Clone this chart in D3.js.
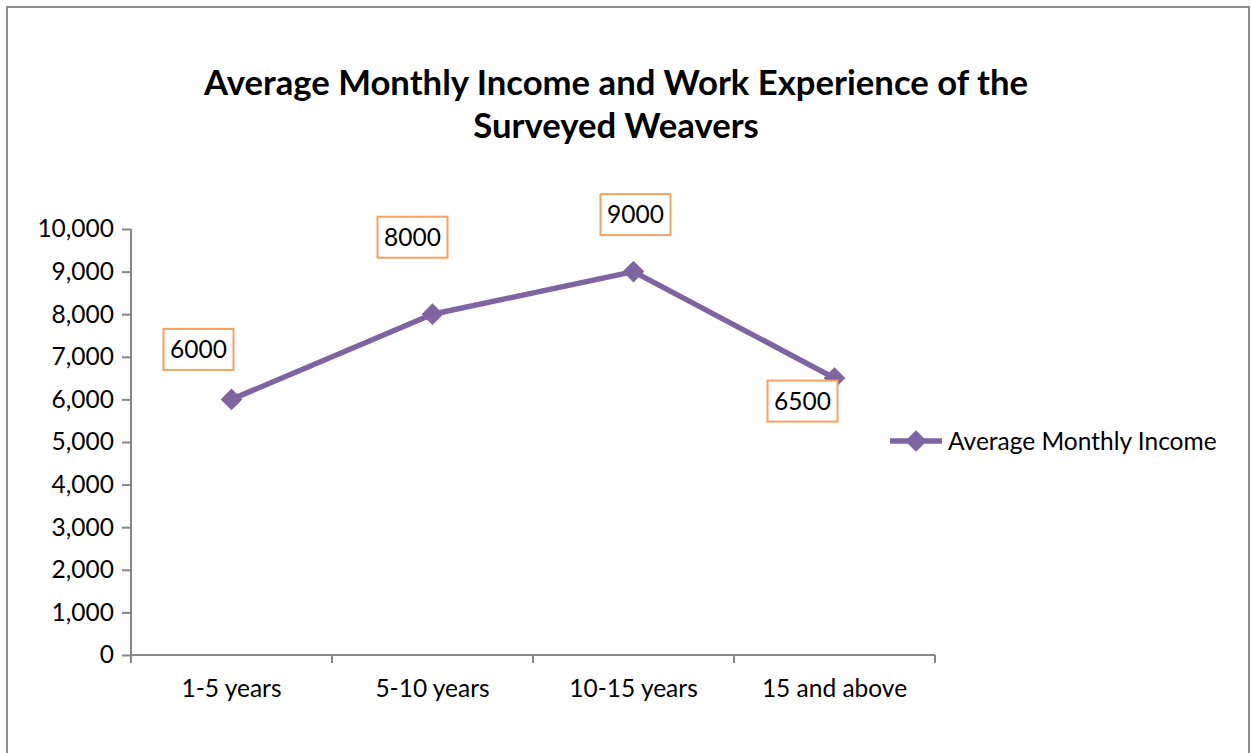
<!DOCTYPE html>
<html>
<head>
<meta charset="utf-8">
<title>Average Monthly Income</title>
<style>
  body { margin: 0; background: #fff; }
  svg text { font-family: Lato, "Open Sans", sans-serif; fill: #000; }
</style>
</head>
<body>
<main></main>
<script src="https://cdn.jsdelivr.net/npm/d3@7"></script>
<script>
    // data
    var categories = ["1-5 years", "5-10 years", "10-15 years", "15 and above"];
    var income = [6000, 8000, 9000, 6500];
    var yTicks = [0, 1000, 2000, 3000, 4000, 5000, 6000, 7000, 8000, 9000, 10000];
    var seriesName = "Average Monthly Income";

    // label box offsets from each point (dx, dy of box centre)
    var labelOffsets = [[-33, -50], [-20, -77], [2, -57], [-32, 23]];

    var width = 1251, height = 753;
    var fs = 24.5;
    var svg = d3.select("main").append("svg")
        .attr("width", width)
        .attr("height", height);

    // outer frame
    svg.append("rect")
        .attr("x", 7).attr("y", 7)
        .attr("width", 1242).attr("height", 760)
        .attr("fill", "none")
        .attr("stroke", "#8c8c8c")
        .attr("stroke-width", 2);

    // title
    var title = svg.append("text")
        .attr("text-anchor", "middle")
        .attr("font-weight", "bold")
        .attr("font-size", 34.7);
    title.append("tspan").attr("x", 616).attr("y", 95).text("Average Monthly Income and Work Experience of the");
    title.append("tspan").attr("x", 616).attr("y", 138).text("Surveyed Weavers");

    var plotLeft = 131, plotRight = 935, plotTop = 229, plotBottom = 655;

    var x = d3.scaleBand().domain(categories).range([plotLeft, plotRight]);
    var y = d3.scaleLinear().domain([0, 10000]).range([plotBottom, plotTop]);

    var axisColor = "#868686";

    // y axis
    var yAxis = svg.append("g")
        .attr("transform", "translate(" + plotLeft + ",0)")
        .call(d3.axisLeft(y).tickValues(yTicks).tickSize(9).tickPadding(8)
            .tickFormat(d3.format(",")));
    yAxis.selectAll("text").attr("font-size", fs).attr("font-family", "Lato, 'Open Sans', sans-serif");

    // x axis
    var xAxis = svg.append("g")
        .attr("transform", "translate(0," + plotBottom + ")")
        .call(d3.axisBottom(x).tickSize(0).tickPadding(25));
    xAxis.selectAll("text").attr("font-size", fs).attr("font-family", "Lato, 'Open Sans', sans-serif");
    // category boundary ticks
    var bounds = categories.map(function (c) { return x(c); }).concat([x(categories[categories.length - 1]) + x.bandwidth()]);
    xAxis.selectAll(".bound").data(bounds).enter().append("line")
        .attr("class", "bound")
        .attr("x1", function (d) { return d; }).attr("x2", function (d) { return d; })
        .attr("y1", 0).attr("y2", 8);

    svg.selectAll(".domain, .tick line, .bound")
        .attr("stroke", axisColor)
        .attr("stroke-width", 2);
    xAxis.select(".domain").attr("d", "M" + plotLeft + ",0H" + plotRight);
    yAxis.select(".domain").attr("d", "M0," + plotTop + "V" + plotBottom);

    var purple = "#8064a2";
    var cx = function (d, i) { return x(categories[i]) + x.bandwidth() / 2; };

    // line
    var line = d3.line()
        .x(function (d, i) { return cx(d, i); })
        .y(function (d) { return y(d); });
    svg.append("path")
        .datum(income)
        .attr("d", line)
        .attr("fill", "none")
        .attr("stroke", purple)
        .attr("stroke-width", 5.5)
        .attr("stroke-linejoin", "round");

    // markers
    var diamond = d3.symbol().type(d3.symbolDiamond2).size(300);
    svg.selectAll(".marker").data(income).enter().append("path")
        .attr("class", "marker")
        .attr("d", diamond)
        .attr("transform", function (d, i) { return "translate(" + cx(d, i) + "," + y(d) + ")"; })
        .attr("fill", purple);

    // data labels
    var lbl = svg.selectAll(".lbl").data(income).enter().append("g")
        .attr("class", "lbl")
        .attr("transform", function (d, i) {
            return "translate(" + (cx(d, i) + labelOffsets[i][0]) + "," + (y(d) + labelOffsets[i][1]) + ")";
        });
    lbl.append("rect")
        .attr("x", -35).attr("y", -20.5)
        .attr("width", 70).attr("height", 41)
        .attr("fill", "#fff")
        .attr("stroke", "#f4a261")
        .attr("stroke-width", 2);
    lbl.append("text")
        .attr("text-anchor", "middle")
        .attr("dy", 8.5)
        .attr("font-size", fs)
        .text(function (d) { return d; });

    // legend
    var lg = svg.append("g").attr("transform", "translate(890,441)");
    lg.append("line").attr("x1", 0).attr("x2", 52).attr("y1", 0).attr("y2", 0)
        .attr("stroke", purple).attr("stroke-width", 5.5);
    lg.append("path").attr("d", diamond).attr("transform", "translate(26,0)").attr("fill", purple);
    lg.append("text").attr("x", 58).attr("y", 8.5).attr("font-size", fs).text(seriesName);
</script>
</body>
</html>
